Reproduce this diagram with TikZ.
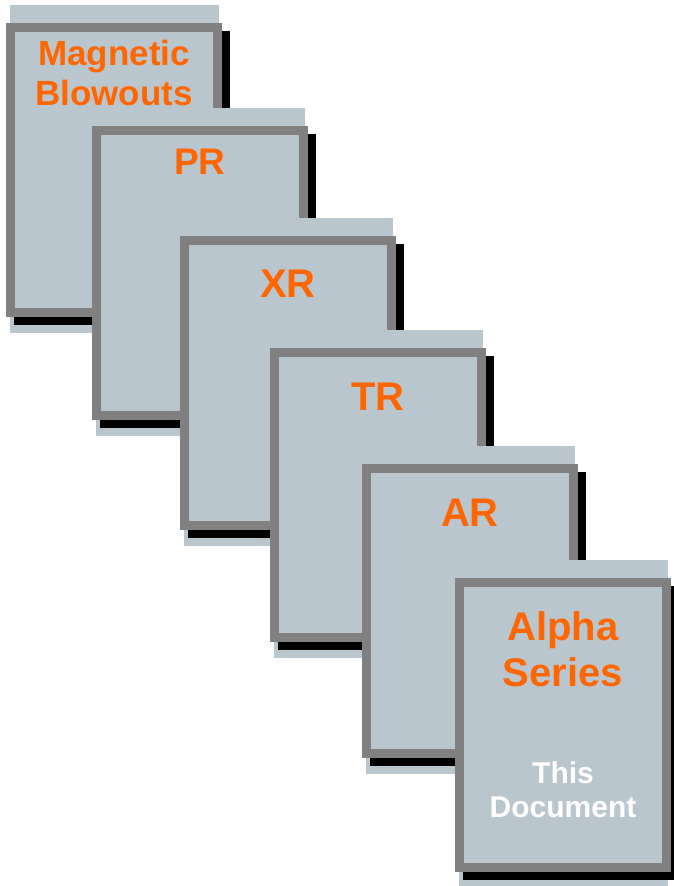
\documentclass[tikz,border=0pt]{standalone}
\usepackage{fontspec}
\setmainfont{Liberation Sans}
\definecolor{cardfill}{RGB}{186,198,206}
\definecolor{cardline}{RGB}{128,128,128}
\definecolor{titleorange}{RGB}{255,102,0}
\tikzset{
  card/.pic={
    \fill[cardfill] (4,-18) rectangle (213,310);
    \fill[black] (8,8) rectangle (224,302);
    \draw[cardline, line width=9pt, fill=cardfill] (4.5,4.5) rectangle (211.5,289.5);
  },
  title/.style 2 args={text=titleorange, font=\bfseries\fontsize{#1}{#2}\selectfont, anchor=base, inner sep=0pt, align=center},
  note/.style={text=white, font=\bfseries\fontsize{30}{34}\selectfont, anchor=base, inner sep=0pt, align=center}
}
\begin{document}
\begin{tikzpicture}[x=1pt,y=-1pt]
\useasboundingbox (0,0) rectangle (674,886);

\pic at (6,23) {card};
\node [title={35}{40}] (mb) at (114,105) {Magnetic\\Blowouts};

\pic at (92,126) {card};
\node [title={37}{42}] (pr) at (200,174) {PR};

\pic at (180,236) {card};
\node [title={40}{46}] (xr) at (288,297) {XR};

\pic at (270,348) {card};
\node [title={40}{46}] (tr) at (378,410) {TR};

\pic at (362,464) {card};
\node [title={40}{46}] (ar) at (470,526) {AR};

\pic at (455,578) {card};
\node [title={40}{46}] (alpha) at (563,686) {Alpha\\Series};
\node [note] (doc) at (563,817) {This\\Document};
\end{tikzpicture}
\end{document}
